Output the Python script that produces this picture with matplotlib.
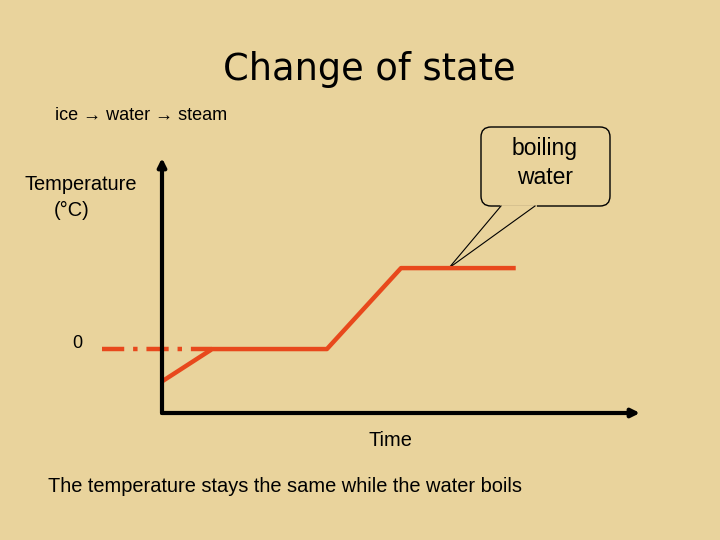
import matplotlib.pyplot as plt
from matplotlib.patches import FancyBboxPatch

# heating curve: ice -> water -> steam
time = [0, 10.5, 34.5, 50, 74]
temp = [-40, 0, 0, 100, 100]
melt_ref_x = [-12.5, 10.5]
melt_ref_y = [0, 0]
boil_point = (60, 100)

bg = '#E9D39C'
line_col = '#E8481C'

fig = plt.figure(figsize=(7.2, 5.4), dpi=100)
fig.patch.set_facecolor(bg)

# full-figure layer in pixel coords for the slide text
ax_bg = fig.add_axes([0, 0, 1, 1])
ax_bg.set_xlim(0, 720)
ax_bg.set_ylim(540, 0)
ax_bg.axis('off')

# chart area
ax = fig.add_axes([162 / 720, 127 / 540, 478 / 720, 255 / 540])
ax.patch.set_alpha(0)
ax.set_xlim(0, 100)
ax.set_ylim(-79, 236)
ax.axis('off')

ax.plot(time, temp, color=line_col, lw=3.2, solid_capstyle='butt', zorder=3)
ax.plot(melt_ref_x, melt_ref_y, color=line_col, lw=3.2, ls=(0, (5, 2, 1, 2)),
        clip_on=False, zorder=2)

# axes arrows
arrow = dict(arrowstyle='-|>', lw=3, color='black', mutation_scale=12,
             shrinkA=0, shrinkB=0)
ax.annotate('', xy=(0, 1), xytext=(0, 0), xycoords='axes fraction', arrowprops=arrow)
ax.annotate('', xy=(1, 0), xytext=(0, 0), xycoords='axes fraction', arrowprops=arrow)

# slide text
ax_bg.text(369, 69, 'Change of state', fontsize=26.5, ha='center', va='center',
           family='DejaVu Sans')
ax_bg.text(55, 115, 'ice \u2192 water \u2192 steam', fontsize=13, ha='left',
           va='center', family='Liberation Sans')
ax_bg.text(81, 184, 'Temperature', fontsize=14.4, ha='center', va='center',
           family='Liberation Sans')
ax_bg.text(72, 210, '(\u00b0C)', fontsize=14.4, ha='center', va='center',
           family='Liberation Sans')
ax_bg.text(77, 344, '0', fontsize=13, ha='center', va='center',
           family='Liberation Sans')
ax_bg.text(390, 440, 'Time', fontsize=14.4, ha='center', va='center',
           family='Liberation Sans')
ax_bg.text(285, 486, 'The temperature stays the same while the water boils',
           fontsize=14.4, ha='center', va='center', family='Liberation Sans')

# callout box
box = FancyBboxPatch((481, 127), 129, 79, boxstyle='round,pad=0,rounding_size=10',
                     fc='none', ec='black', lw=1)
ax_bg.add_patch(box)
ax_bg.text(545, 163, 'boiling\nwater', fontsize=16.5, ha='center', va='center',
           linespacing=1.35, family='Liberation Sans')

# tail from box to the boiling plateau
disp = ax.transData.transform(boil_point)
tip = ax_bg.transData.inverted().transform(disp)
ax_bg.plot([501, 535], [206, 206], color=bg, lw=2)
ax_bg.plot([501, tip[0], 535], [206, tip[1], 206], color='black', lw=0.8)

plt.savefig('out.png', dpi=100, facecolor=bg)
